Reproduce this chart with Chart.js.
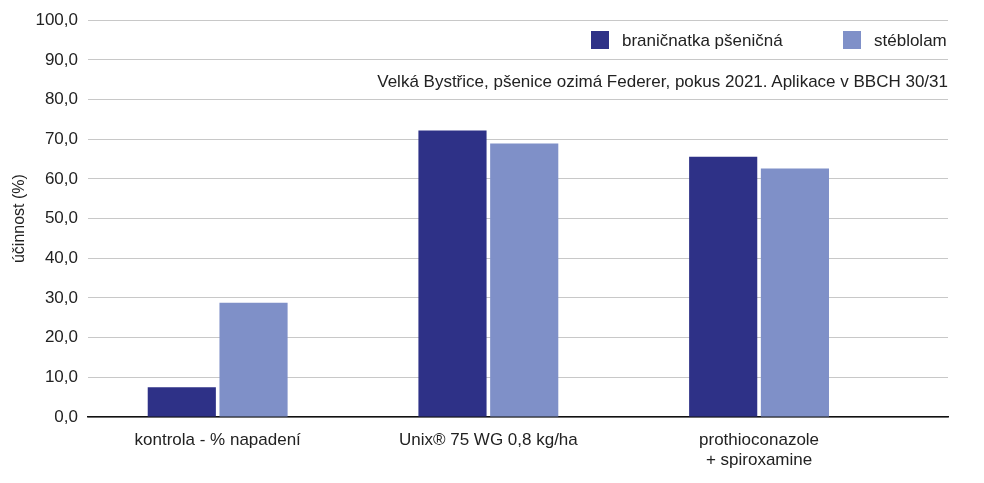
<!DOCTYPE html>
<html>
<head>
<meta charset="utf-8">
<script src="https://cdn.jsdelivr.net/npm/chart.js@4/dist/chart.umd.min.js"></script>
<style>
  html, body { margin: 0; padding: 0; background: #fff; }
  #wrap { position: relative; width: 984px; height: 483px; font-family: "Liberation Sans", Arial, sans-serif; color: #222; }
  #chart { position: absolute; left: 0; top: 0; }
  .legend { position: absolute; top: 30px; font-size: 17px; line-height: 22px; }
  .legend span.box { display: inline-block; width: 18px; height: 18px; vertical-align: -3px; margin-right: 13px; }
  #note { position: absolute; right: 36px; top: 72px; font-size: 17px; white-space: nowrap; }
</style>
</head>
<body>
<div id="wrap">
  <canvas id="chart" width="984" height="483"></canvas>
  <div class="legend" id="leg1" style="left:591px"></div>
  <div class="legend" id="leg2" style="left:843px"></div>
  <div id="note">Velká Bystřice, pšenice ozimá Federer, pokus 2021. Aplikace v BBCH 30/31</div>
</div>
<script>
// --- data ---
const categories = [
    'kontrola - % napadení',
    'Unix® 75 WG 0,8 kg/ha',
    ['prothioconazole', '+ spiroxamine']
];
const seriesNames = ['braničnatka pšeničná', 'stéblolam'];
const branicnatka = [7.5, 72.2, 65.6];
const steblolam = [28.8, 68.9, 62.6];
const yTicks = [0, 10, 20, 30, 40, 50, 60, 70, 80, 90, 100];

const colors = ['#2e3187', '#7f90c8'];

const toPoints = (arr) => arr.map((v, i) => ({ x: i, y: v }));

// legenda v HTML (kreslí se přes plochu grafu)
[['leg1', 0], ['leg2', 1]].forEach(([id, i]) => {
    const el = document.getElementById(id);
    el.innerHTML = '<span class="box" style="background:' + colors[i] + '"></span>' + seriesNames[i];
});

const font = { family: '"Liberation Sans", Arial, sans-serif', size: 17 };

new Chart(document.getElementById('chart'), {
    type: 'bar',
    data: {
        datasets: [
            { label: seriesNames[0], data: toPoints(branicnatka), backgroundColor: colors[0] },
            { label: seriesNames[1], data: toPoints(steblolam), backgroundColor: colors[1] }
        ]
    },
    options: {
        responsive: false,
        animation: false,
        categoryPercentage: 0.53,
        barPercentage: 0.95,
        layout: { padding: { top: 15, right: 36, left: 10, bottom: 0 } },
        plugins: {
            legend: { display: false },
            tooltip: { enabled: false }
        },
        scales: {
            x: {
                type: 'linear',
                offset: false,
                min: -0.479,
                max: 2.698,
                grid: { display: false, offset: false },
                border: { display: true, color: '#111', width: 1.5 },
                afterBuildTicks: (scale) => {
                    scale.ticks = categories.map((c, i) => ({ value: i }));
                },
                afterFit: (scale) => { scale.height = 66; },
                ticks: {
                    color: '#222',
                    font: { ...font, lineHeight: 1.15 },
                    padding: 6,
                    maxRotation: 0,
                    autoSkip: false,
                    callback: (v) => categories[v]
                }
            },
            y: {
                min: 0,
                max: 100,
                afterBuildTicks: (scale) => {
                    scale.ticks = yTicks.map(v => ({ value: v }));
                },
                afterFit: (scale) => { scale.width = 78; },
                grid: { color: '#c8c8c8', lineWidth: 1, drawTicks: false },
                border: { display: false },
                title: {
                    display: true,
                    text: 'účinnost (%)',
                    color: '#222',
                    font: { ...font, size: 16 },
                    padding: 0
                },
                ticks: {
                    color: '#222',
                    font: font,
                    padding: 10,
                    callback: (v) => v.toFixed(1).replace('.', ',')
                }
            }
        }
    }
});
</script>
</body>
</html>
